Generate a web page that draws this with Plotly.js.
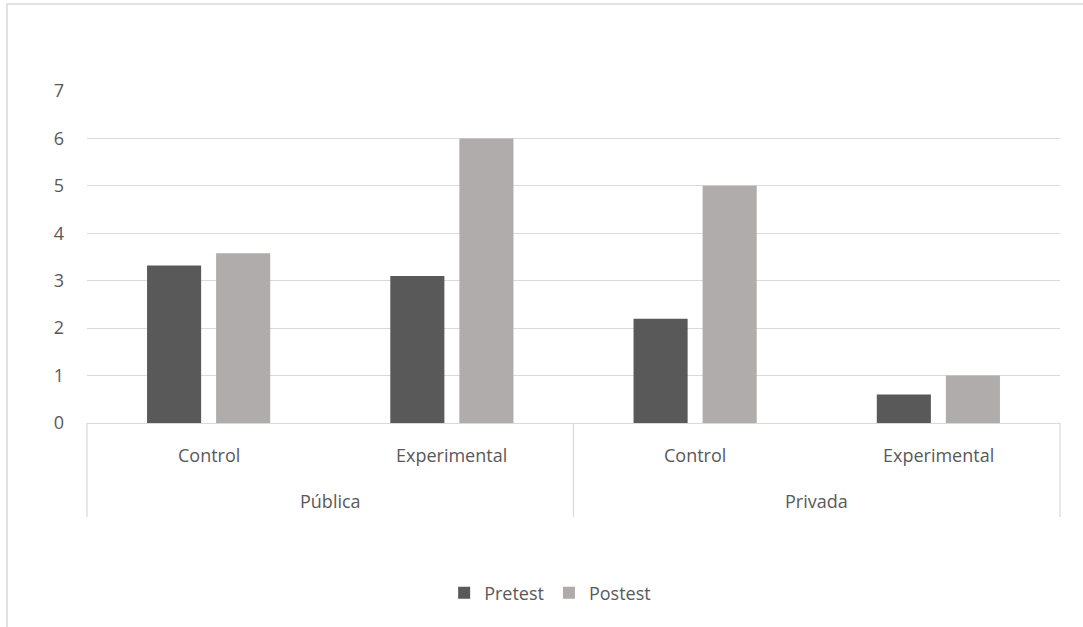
<!DOCTYPE html>
<html>
<head>
<meta charset="utf-8">
<script src="https://cdn.plot.ly/plotly-3.0.1.min.js"></script>
<style>
html,body{margin:0;padding:0;background:#fff;}
#chart{width:1083px;height:627px;}
</style>
</head>
<body>
<div id="chart"></div>
<script>
const groups = ["Pública", "Pública", "Privada", "Privada"];
const subgroups = ["Control", "Experimental", "Control", "Experimental"];
const groupLabels = ["Pública", "Privada"];
const pretest = [3.32, 3.1, 2.2, 0.6];
const postest = [3.58, 6.0, 5.0, 1.0];
const seriesNames = ["Pretest", "Postest"];
const yTicks = [0, 1, 2, 3, 4, 5, 6, 7];

const FONT = "'Open Sans', sans-serif";
const GRID = "#d9d9d9";
const TXT = "#595959";
const FS = 18;

const traces = [
  {type: "bar", name: seriesNames[0], x: [groups, subgroups], y: pretest,
   marker: {color: "#595959"}, hoverinfo: "y"},
  {type: "bar", name: seriesNames[1], x: [groups, subgroups], y: postest,
   marker: {color: "#AFACAB"}, hoverinfo: "y"}
];

// category-axis labels and box lines (Excel style multi-level axis)
const n = subgroups.length;
const boxBottom = -0.283;
const annotations = [];
subgroups.forEach((s, i) => {
  annotations.push({xref: "paper", yref: "paper", x: (i + 0.5) / n, y: -0.0964,
    text: s, showarrow: false, xanchor: "center", yanchor: "middle",
    font: {family: FONT, size: FS, color: TXT}});
});
groupLabels.forEach((g, j) => {
  annotations.push({xref: "paper", yref: "paper", x: (j + 0.5) / groupLabels.length, y: -0.235,
    text: g, showarrow: false, xanchor: "center", yanchor: "middle",
    font: {family: FONT, size: FS, color: TXT}});
});
const shapes = [
  {type: "rect", xref: "paper", yref: "paper", x0: -0.0822, x1: 1.2, y0: -1.0, y1: 1.262,
   line: {color: GRID, width: 1.5}, fillcolor: "rgba(0,0,0,0)", layer: "below"}
];
for (let j = 0; j <= groupLabels.length; j++) {
  shapes.push({type: "line", xref: "paper", yref: "paper", x0: j / groupLabels.length, x1: j / groupLabels.length,
    y0: 0, y1: boxBottom, line: {color: GRID, width: 1.2}});
}

const layout = {
  width: 1083, height: 627,
  margin: {l: 87, r: 23, t: 91, b: 204},
  paper_bgcolor: "#fff", plot_bgcolor: "#fff",
  font: {family: FONT, size: FS, color: TXT},
  barmode: "group", bargap: 0.432, bargroupgap: 0.217,
  showlegend: true,
  legend: {orientation: "h", x: 0.476, xanchor: "center", y: -0.512, yanchor: "middle",
           font: {family: FONT, size: FS, color: TXT}},
  xaxis: {type: "multicategory", showline: true, linecolor: GRID, linewidth: 1,
          showdividers: false, showticklabels: false, showgrid: false, zeroline: false},
  yaxis: {range: [0, 7], tickvals: yTicks, showgrid: true, gridcolor: GRID, gridwidth: 1,
          zeroline: true, zerolinecolor: GRID, showline: false, ticks: "",
          ticklabelstandoff: 22, tickfont: {family: FONT, size: FS, color: TXT}},
  annotations: annotations,
  shapes: shapes
};
Plotly.newPlot("chart", traces, layout, {displayModeBar: false, staticPlot: true});
</script>
</body>
</html>
